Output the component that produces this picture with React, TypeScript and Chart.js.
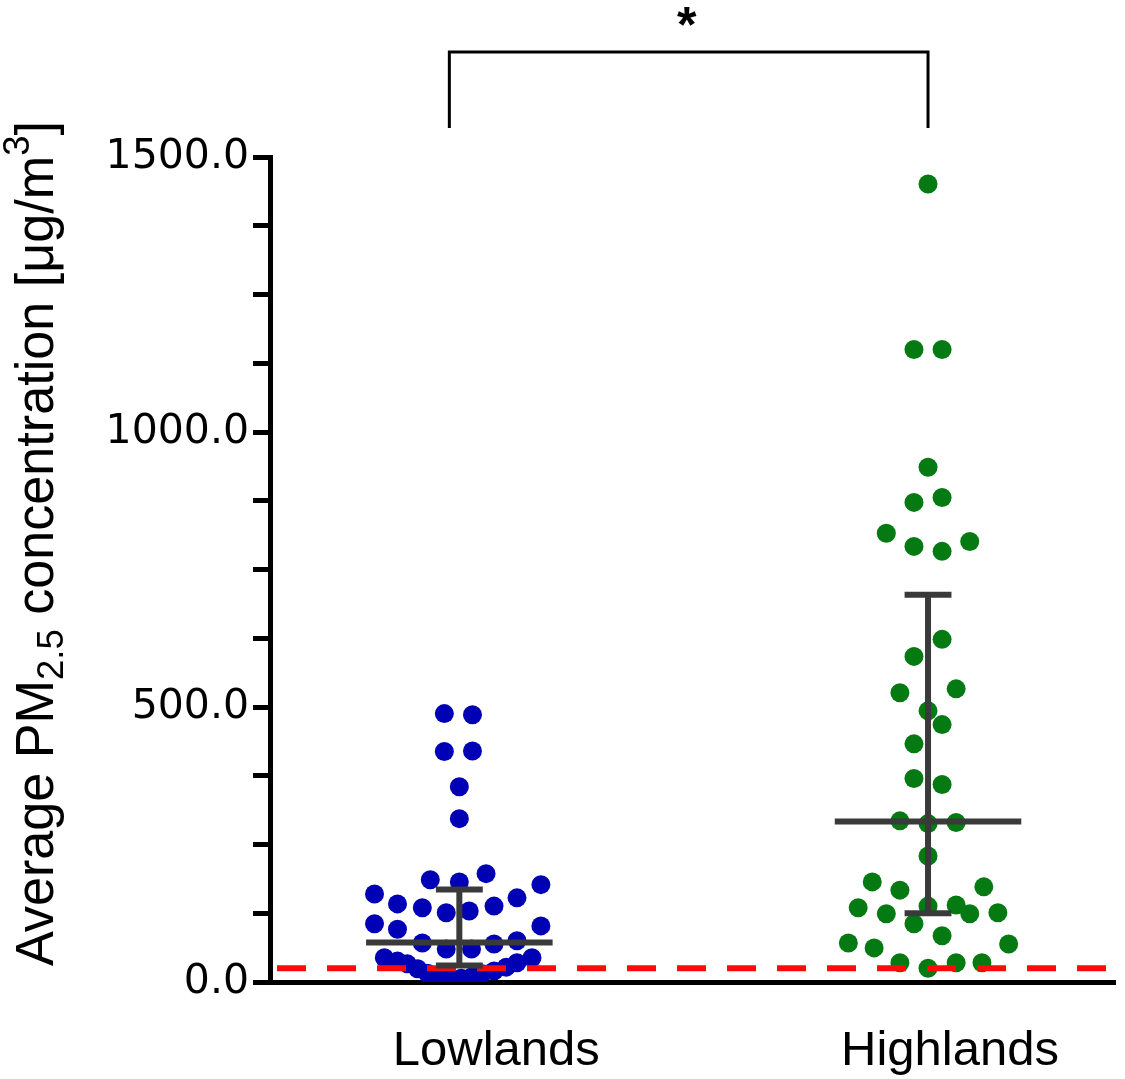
import React, { useEffect, useRef } from 'react';
import { Chart, registerables } from 'chart.js';

Chart.register(...registerables);

// ---------- data ----------
const categories = ['Lowlands', 'Highlands'];

const lowlandsValues = [
  488, 486, 419, 420, 355, 297,
  186, 182, 197, 177,
  160, 142, 135, 126, 129, 138, 153,
  106, 96, 102,
  71, 60, 60, 69, 75,
  44, 38, 33, 24, 16, 11, 7, 7, 9, 15, 20, 27, 35, 44,
];
// beeswarm horizontal jitter, in category units
const lowlandsJitter = [
  -0.032, 0.028, -0.032, 0.028, 0, 0,
  -0.062, 0, 0.057, 0.174,
  -0.181, -0.132, -0.079, -0.028, 0.021, 0.074, 0.123,
  -0.181, -0.132, 0.174,
  -0.079, -0.028, 0.026, 0.074, 0.123,
  -0.16, -0.132, -0.111, -0.089, -0.068, -0.043, -0.017, 0.004, 0.026, 0.049, 0.074, 0.1, 0.123, 0.155,
];

const highlandsValues = [
  1451, 1150, 1150, 936, 872, 881, 816, 792, 783, 801,
  623, 592, 526, 533, 493, 468, 433, 370, 359,
  293, 288, 290, 229, 182, 167, 173,
  135, 124, 138, 140, 124, 126, 106, 84,
  71, 62, 69, 35, 25, 35, 35,
];
const highlandsJitter = [
  0, -0.03, 0.03, 0, -0.03, 0.03, -0.089, -0.03, 0.03, 0.089,
  0.03, -0.03, -0.06, 0.06, 0, 0.03, -0.03, -0.03, 0.03,
  -0.06, 0, 0.06, 0, -0.119, -0.06, 0.119,
  -0.149, -0.089, 0, 0.06, 0.089, 0.149, -0.03, 0.03,
  -0.17, -0.115, 0.172, -0.06, 0, 0.06, 0.115,
];

const centralValues = [72, 292];
const upperValues = [168, 704];
const lowerValues = [30, 125];
const thresholdValue = 25;
const yMin = 0;
const yMax = 1500;
const yMinorStep = 125;
const yLabelStep = 500;
const significanceLabel = '*';
const titleParts = [
  { text: 'Average PM', kind: 'normal' },
  { text: '2.5', kind: 'sub' },
  { text: ' concentration [\u03bcg/m', kind: 'normal' },
  { text: '3', kind: 'sup' },
  { text: ']', kind: 'normal' },
];

// category label horizontal offsets (px) relative to category centre
const LABEL_SHIFT = [37, 22];
const COLORS = ['#0000b4', '#057a12'];
const SUMMARY_COLOR = '#3a3a3a';

const overlayPlugin = {
  id: 'overlay',
  afterDatasetsDraw(chart: any) {
    const ctx = chart.ctx as CanvasRenderingContext2D;
    const xs = chart.scales.x;
    const ys = chart.scales.y;
    const area = chart.chartArea;

    // threshold dashed line
    ctx.save();
    ctx.strokeStyle = '#ff0a0a';
    ctx.lineWidth = 6;
    ctx.setLineDash([29, 21]);
    const ty = ys.getPixelForValue(thresholdValue);
    ctx.beginPath();
    ctx.moveTo(area.left + 7, ty);
    ctx.lineTo(area.right, ty);
    ctx.stroke();
    ctx.restore();

    // summary bars
    ctx.save();
    ctx.strokeStyle = SUMMARY_COLOR;
    ctx.lineWidth = 6;
    ctx.lineCap = 'butt';
    categories.forEach((_, i) => {
      const cx = xs.getPixelForValue(i);
      const halfW = xs.getPixelForValue(i + 0.199) - cx;
      const capW = xs.getPixelForValue(i + 0.05) - cx;
      const yc = ys.getPixelForValue(centralValues[i]);
      const yu = ys.getPixelForValue(upperValues[i]);
      const yl = ys.getPixelForValue(lowerValues[i]);
      ctx.beginPath();
      ctx.moveTo(cx - halfW, yc);
      ctx.lineTo(cx + halfW, yc);
      ctx.moveTo(cx, yu);
      ctx.lineTo(cx, yl);
      ctx.moveTo(cx - capW, yu);
      ctx.lineTo(cx + capW, yu);
      ctx.moveTo(cx - capW, yl);
      ctx.lineTo(cx + capW, yl);
      ctx.stroke();
    });
    ctx.restore();

    // category labels
    ctx.save();
    ctx.fillStyle = '#000';
    ctx.font = '49px "Liberation Sans", Arial, sans-serif';
    ctx.textAlign = 'center';
    ctx.textBaseline = 'alphabetic';
    categories.forEach((c, i) => {
      ctx.fillText(c, xs.getPixelForValue(i) + LABEL_SHIFT[i], 1065);
    });
    ctx.restore();

    // significance bracket
    ctx.save();
    const x0 = xs.getPixelForValue(0) - 10;
    const x1 = xs.getPixelForValue(1);
    ctx.strokeStyle = '#000';
    ctx.lineWidth = 3;
    ctx.beginPath();
    ctx.moveTo(x0, 128);
    ctx.lineTo(x0, 52);
    ctx.lineTo(x1, 52);
    ctx.lineTo(x1, 128);
    ctx.stroke();
    ctx.fillStyle = '#000';
    ctx.font = 'bold 50px "Liberation Sans", Arial, sans-serif';
    ctx.textAlign = 'center';
    ctx.textBaseline = 'alphabetic';
    ctx.fillText(significanceLabel, (x0 + x1) / 2 - 2, 42);
    ctx.restore();

    // y axis title with sub/superscript
    ctx.save();
    const bigFont = '53px "Liberation Sans Narrow", "Liberation Sans", Arial, sans-serif';
    const smallFont = '37px "Liberation Sans Narrow", "Liberation Sans", Arial, sans-serif';
    let total = 0;
    const widths = titleParts.map((p) => {
      ctx.font = p.kind === 'normal' ? bigFont : smallFont;
      const w = ctx.measureText(p.text).width;
      total += w;
      return w;
    });
    const targetLen = 845;
    const s = targetLen / total;
    ctx.translate(53, 966);
    ctx.rotate(-Math.PI / 2);
    ctx.scale(s, 1);
    ctx.fillStyle = '#000';
    ctx.textAlign = 'left';
    ctx.textBaseline = 'alphabetic';
    let pos = 0;
    titleParts.forEach((p, i) => {
      ctx.font = p.kind === 'normal' ? bigFont : smallFont;
      const dy = p.kind === 'sub' ? 10 : p.kind === 'sup' ? -24 : 0;
      ctx.fillText(p.text, pos, dy);
      pos += widths[i];
    });
    ctx.restore();
  },
};

export default function App() {
  const ref = useRef<HTMLCanvasElement | null>(null);

  useEffect(() => {
    document.body.style.margin = '0';
    const canvas = ref.current;
    if (!canvas) return;

    const datasets = [
      {
        label: categories[0],
        data: lowlandsValues.map((v, i) => ({ x: 0 + lowlandsJitter[i], y: v })),
        backgroundColor: COLORS[0],
        borderWidth: 0,
        pointRadius: 9.5,
      },
      {
        label: categories[1],
        data: highlandsValues.map((v, i) => ({ x: 1 + highlandsJitter[i], y: v })),
        backgroundColor: COLORS[1],
        borderWidth: 0,
        pointRadius: 9.5,
      },
    ];

    const chart = new Chart(canvas, {
      type: 'scatter',
      data: { datasets },
      plugins: [overlayPlugin],
      options: {
        animation: false,
        responsive: false,
        maintainAspectRatio: false,
        layout: { padding: { left: 0, top: 157, right: 7, bottom: 0 } },
        plugins: {
          legend: { display: false },
          tooltip: { enabled: false },
        },
        scales: {
          x: {
            type: 'linear',
            position: 'bottom',
            min: -0.404,
            max: 1.4,
            afterBuildTicks: (scale: any) => {
              scale.ticks = categories.map((_, i) => ({ value: i }));
            },
            afterFit: (scale: any) => {
              scale.height = 97;
            },
            ticks: {
              display: false,
            },
            grid: { drawOnChartArea: false, drawTicks: false },
            border: { color: '#000', width: 5 },
          },
          y: {
            type: 'linear',
            min: yMin,
            max: yMax,
            afterFit: (scale: any) => {
              scale.width = 270;
            },
            ticks: {
              stepSize: yMinorStep,
              autoSkip: false,
              padding: 4,
              color: '#000',
              font: { family: '"DejaVu Sans", sans-serif', size: 41 },
              callback: (v: any) => (Number(v) % yLabelStep === 0 ? Number(v).toFixed(1) : ''),
            },
            grid: {
              drawOnChartArea: false,
              tickLength: 17,
              tickColor: '#000',
              tickWidth: 5,
            },
            border: { color: '#000', width: 5 },
          },
        },
      },
    });

    return () => chart.destroy();
  }, []);

  return (
    <canvas
      ref={ref}
      width={1125}
      height={1079}
      style={{ display: 'block', width: '1125px', height: '1079px' }}
    />
  );
}
